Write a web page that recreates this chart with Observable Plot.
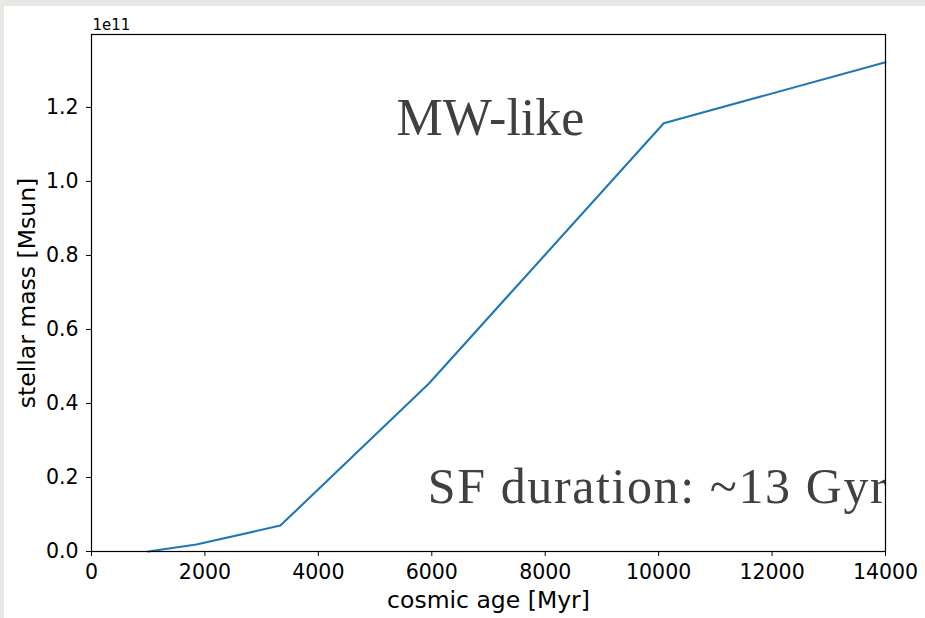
<!DOCTYPE html>
<html>
<head>
<meta charset="utf-8">
<script src="https://cdn.jsdelivr.net/npm/d3@7"></script>
<script src="https://cdn.jsdelivr.net/npm/@observablehq/plot@0.6"></script>
<style>
  html, body { margin: 0; padding: 0; background: #e9e7e3; width: 925px; height: 618px; overflow: hidden; }
  #chart { position: absolute; left: 4px; top: 6px; width: 921px; height: 612px; background: #ffffff; }
  #chart svg { background: #ffffff; }
</style>
</head>
<body>
<div id="chart"></div>
<script>
// Data
const ages = [1000, 1850, 3330, 5950, 10090, 14000];             // cosmic age [Myr]
const masses = [0, 1.9e9, 7.0e9, 4.54e10, 1.157e11, 1.322e11];   // stellar mass [Msun]
const xTicks = [0, 2000, 4000, 6000, 8000, 10000, 12000, 14000];
const yTicks = [0, 0.2e11, 0.4e11, 0.6e11, 0.8e11, 1.0e11, 1.2e11];
const annoText = ["MW-like", "SF duration: ~13 Gyr"];
const annoX = [5380, 5930];
const annoY = [1.125e11, 0.13e11];

const data = ages.map((a, i) => ({age: a, mass: masses[i]}));
const annos = annoText.map((t, i) => ({text: t, x: annoX[i], y: annoY[i]}));

const sans = "'DejaVu Sans', sans-serif";
const serif = "'Liberation Serif', 'DejaVu Serif', serif";

const plot = Plot.plot({
  width: 921,
  height: 612,
  marginLeft: 87,
  marginRight: 40,
  marginTop: 28,
  marginBottom: 67,
  style: {background: "#ffffff", color: "#000000", fontFamily: sans},
  x: {domain: [0, 14000]},
  y: {domain: [0, 1.397e11]},
  marks: [
    Plot.line(data, {x: "age", y: "mass", stroke: "#1f77b4", strokeWidth: 2.1}),
    Plot.text(annos, {x: "x", y: "y", text: "text", textAnchor: "start", lineAnchor: "bottom",
      fontSize: (d, i) => i === 0 ? 52 : 50, fontFamily: serif, fill: "#404040", clip: true}),
    Plot.frame({stroke: "#000000", strokeWidth: 1.2}),
    Plot.axisX({ticks: xTicks, tickSize: 5, tickPadding: 8, fontSize: 20.5, label: null,
      tickFormat: d => String(d), fontFamily: sans}),
    Plot.axisY({ticks: yTicks, tickSize: 5, tickPadding: 8, fontSize: 20.5, label: null,
      tickFormat: d => (d / 1e11).toFixed(1), fontFamily: sans}),
    Plot.text(["cosmic age [Myr]"], {frameAnchor: "bottom", textAnchor: "middle", dy: 49, lineAnchor: "middle",
      fontSize: 23.5, fontFamily: sans, fill: "#000000"}),
    Plot.text(["stellar mass [Msun]"], {frameAnchor: "left", textAnchor: "middle", dx: -64, rotate: -90, lineAnchor: "middle",
      fontSize: 23.5, fontFamily: sans, fill: "#000000"}),
    Plot.text(["1e11"], {frameAnchor: "top-left", textAnchor: "start", lineAnchor: "middle", dy: -9, dx: 1,
      fontSize: 15, fontFamily: sans, fill: "#000000"})
  ]
});
document.getElementById("chart").appendChild(plot);
// widen the serif annotation slightly to match the reference glyph widths
d3.select(plot).selectAll("text").filter(function() { return this.textContent === annoText[1]; })
  .style("letter-spacing", "1.6px");
</script>
</body>
</html>
